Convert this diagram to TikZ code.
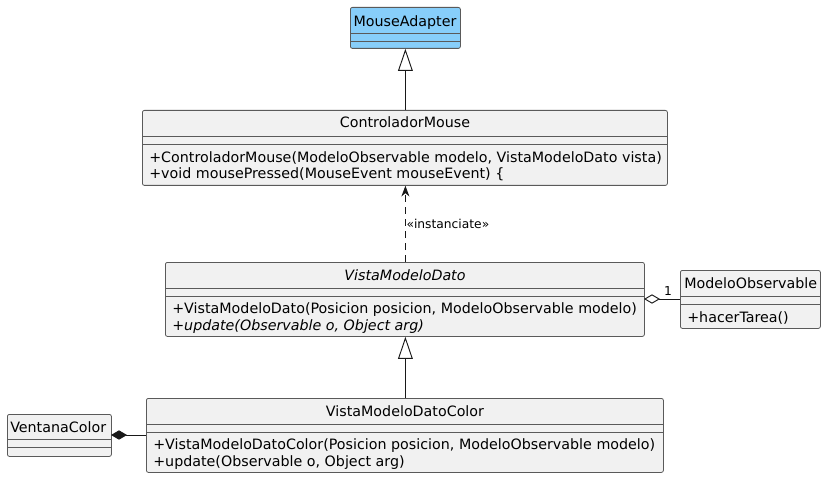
\documentclass[tikz,border=0pt]{standalone}
\usepackage{fontspec}
\setmainfont{DejaVu Sans}
\usetikzlibrary{arrows.meta}
\definecolor{boxfill}{HTML}{F1F1F1}
\definecolor{boxline}{HTML}{5A5A5A}
\definecolor{blue1}{HTML}{87CEFA}
\definecolor{ink}{HTML}{181818}
\tikzset{
  cls/.style={draw=boxline, fill=boxfill, rounded corners=1.5pt, line width=0.6pt, inner sep=0pt, anchor=north west},
  sep/.style={draw=boxline, line width=0.6pt},
  txt/.style={inner sep=0pt, font=\fontsize{10.7}{12}\selectfont, text=black},
  conn/.style={draw=ink, line width=0.7pt},
  gen/.style={conn, -{Triangle[open, length=16.5pt, width=11pt]}},
  dep/.style={conn, dashed, dash pattern=on 5pt off 4pt, -{Stealth[length=8pt, width=6pt, inset=2.5pt]}},
}
\begin{document}
\begin{tikzpicture}[x=0.75pt, y=-0.75pt]
\useasboundingbox (0,0) rectangle (826,478);
% MouseAdapter
\node[cls, fill=blue1, minimum width=110*0.75pt, minimum height=41*0.75pt] (ma) at (350,7) {};
\node[txt, anchor=base] (mat) at (405,27) {MouseAdapter};
\draw[sep] (350,33) -- (460,33) (350,41) -- (460,41);
% ControladorMouse
\node[cls, minimum width=525*0.75pt, minimum height=75*0.75pt] (cm) at (142,110) {};
\node[txt, anchor=base] (cmt) at (405,128) {ControladorMouse};
\draw[sep] (142,136) -- (667,136) (142,144) -- (667,144);
\node[txt, anchor=base west] (cm1) at (149,162) {+ControladorMouse(ModeloObservable modelo, VistaModeloDato vista)};
\node[txt, anchor=base west] (cm2) at (149,179) {+void mousePressed(MouseEvent mouseEvent) \{};
% VistaModeloDato
\node[cls, minimum width=479*0.75pt, minimum height=74*0.75pt] (vm) at (165,262) {};
\node[txt, anchor=base] (vmt) at (405,280) {\itshape VistaModeloDato};
\draw[sep] (165,288) -- (644,288) (165,296) -- (644,296);
\node[txt, anchor=base west] (vm1) at (172,313) {+VistaModeloDato(Posicion posicion, ModeloObservable modelo)};
\node[txt, anchor=base west] (vm2) at (172,330) {\itshape +update(Observable o, Object arg)};
% ModeloObservable
\node[cls, minimum width=140*0.75pt, minimum height=58*0.75pt] (mo) at (680,270) {};
\node[txt, anchor=base west] (mot) at (684,288) {ModeloObservable};
\draw[sep] (680,296) -- (820,296) (680,304) -- (820,304);
\node[txt, anchor=base west] (mo1) at (687,322) {+hacerTarea()};
% VistaModeloDatoColor
\node[cls, minimum width=517*0.75pt, minimum height=74*0.75pt] (vc) at (146,398) {};
\node[txt, anchor=base] (vct) at (405,416) {VistaModeloDatoColor};
\draw[sep] (146,424) -- (663,424) (146,432) -- (663,432);
\node[txt, anchor=base west] (vc1) at (153,449) {+VistaModeloDatoColor(Posicion posicion, ModeloObservable modelo)};
\node[txt, anchor=base west] (vc2) at (153,466) {+update(Observable o, Object arg)};
% VentanaColor
\node[cls, minimum width=104*0.75pt, minimum height=42*0.75pt] (vt) at (7,414) {};
\node[txt, anchor=base west] (vtt) at (10,432) {VentanaColor};
\draw[sep] (7,439) -- (111,439) (7,447) -- (111,447);
% connectors
\draw[gen] (cm.north -| ma.south) -- (ma.south);
\draw[dep] (vm.north -| ma.south) -- node[txt, anchor=west, xshift=0.5pt, font=\fontsize{9.2}{11}\selectfont] (lbl) {«instanciate»} (cm.south -| ma.south);
\draw[gen] (vc.north -| ma.south) -- (vm.south -| ma.south);
\coordinate (aggA) at (644,299);
\coordinate (aggB) at (680,299);
\draw[conn, {Diamond[open, length=12pt, width=7pt]}-] (aggA) -- (aggB);
\node[txt, anchor=base, font=\fontsize{9.2}{11}\selectfont] (one) at (668,295) {1};
\coordinate (cmpA) at (111,435);
\coordinate (cmpB) at (146,435);
\draw[conn, {Diamond[length=12pt, width=7pt]}-] (cmpA) -- (cmpB);
\end{tikzpicture}
\end{document}
